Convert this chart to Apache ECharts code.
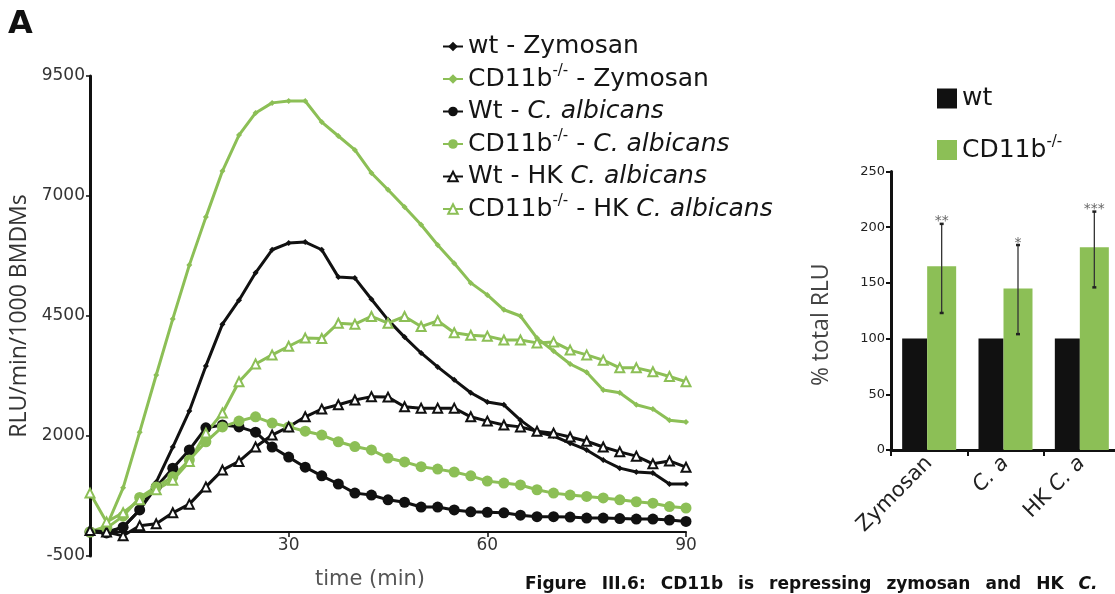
<!DOCTYPE html>
<html><head><meta charset="utf-8">
<script src="https://cdn.jsdelivr.net/npm/echarts@6/dist/echarts.min.js"></script>
<style>html,body{margin:0;padding:0;background:#fff}#c{width:1115px;height:594px}</style>
</head><body><div id="c"></div>
<script>
// ---- data: kinetics (RLU/min/1000 BMDMs) ----
const times = [0,2.5,5,7.5,10,12.5,15,17.5,20,22.5,25,27.5,30,32.5,35,37.5,40,42.5,45,47.5,50,52.5,55,57.5,60,62.5,65,67.5,70,72.5,75,77.5,80,82.5,85,87.5,90];
const wtZymosan = [40,0,100,460,1040,1770,2520,3460,4330,4830,5400,5880,6020,6040,5880,5310,5290,4850,4420,4060,3730,3440,3170,2900,2710,2650,2330,2080,2000,1850,1710,1500,1330,1250,1230,1000,1000];
const koZymosan = [0,120,920,2080,3270,4440,5560,6560,7520,8270,8730,8940,8980,8980,8540,8250,7960,7480,7130,6770,6400,5980,5600,5190,4940,4630,4500,4040,3770,3500,3330,2960,2900,2650,2560,2330,2290];
const wtCa = [0,-20,100,460,940,1330,1710,2170,2230,2190,2080,1770,1560,1350,1170,1000,810,770,670,620,520,520,460,420,410,400,350,320,320,310,290,290,280,270,270,250,220];
const koCa = [0,80,330,720,940,1150,1500,1880,2190,2310,2400,2270,2190,2100,2020,1880,1780,1710,1540,1460,1360,1310,1250,1170,1060,1020,980,880,810,770,740,710,670,630,600,530,500];
const wtHk = [30,0,-80,130,170,400,580,940,1290,1470,1770,2020,2190,2400,2560,2650,2750,2820,2810,2610,2580,2580,2580,2400,2310,2230,2190,2100,2060,1980,1890,1770,1670,1580,1420,1480,1350];
const koHk = [810,210,400,670,880,1080,1470,2060,2480,3130,3500,3690,3870,4040,4030,4350,4330,4490,4350,4490,4280,4400,4150,4100,4080,4000,4000,3940,3960,3790,3690,3580,3420,3420,3340,3240,3130];
const lineNames = ['wt - Zymosan','CD11b-/- - Zymosan','Wt - C. albicans','CD11b-/- - C. albicans','Wt - HK C. albicans','CD11b-/- - HK C. albicans'];

// ---- data: % total RLU ----
const barCats = ['Zymosan','C. a','HK C. a'];
const barNames = ['wt','CD11b-/-'];
const wtPct = [100,100,100];
const koPct = [165,145,182];
const koErrLow = [123,104,146];
const koErrHigh = [203,184,214];
const sigLabels = ['**','*','***'];

// ---- texts ----
const panelLabel = 'A';
const captionWords = ['Figure','III.6:','CD11b','is','repressing','zymosan','and','HK','C.'];

// ---- styles ----
const GREEN = '#8cbf56', BLACK = '#111111';
const FH = 'DejaVu Sans', FV = 'Open Sans';
const WT_BAR_W = 25, KO_BAR_W = 29;
const LEFT_GRID_H = 480, Y_MIN = -500, Y_MAX = 9500;
// place the time axis at y = 0 (as in the reference) by shifting it up from the grid bottom
const X_AXIS_OFFSET = -Math.round(LEFT_GRID_H * (0 - Y_MIN) / (Y_MAX - Y_MIN));

function fmtName(s){
  return s.split(/(CD11b-\/-|C\. albicans)/).filter(Boolean).map(p=>{
    if(p==='CD11b-/-') return '{n|CD11b}{sup|-/-}';
    if(p==='C. albicans') return '{i|C. albicans}';
    return '{n|'+p+'}';
  }).join('');
}
const legendRich = (fs, lh) => ({
  n:{fontFamily:FH,fontSize:fs,color:'#151515',lineHeight:lh},
  i:{fontFamily:FH,fontSize:fs,color:'#151515',lineHeight:lh,fontStyle:'italic'},
  sup:{fontFamily:FH,fontSize:Math.round(fs*0.6),color:'#151515',lineHeight:Math.round(lh/2),padding:[0,0,Math.round(lh/2),0]}
});

function lineSeries(idx, data, color, symbol, size, hollow){
  return {type:'line', name:lineNames[idx], xAxisIndex:0, yAxisIndex:0,
    data: times.map((t,i)=>[t,data[i]]),
    symbol:symbol, symbolSize:size, showAllSymbol:true, color:color,
    lineStyle:{color:color,width:3},
    itemStyle: hollow ? {color:'#fff',borderColor:color,borderWidth:2} : {color:color},
    emphasis:{disabled:true}, animation:false};
}

const caption = captionWords.map((w,i)=> (i===captionWords.length-1 ? '{bi|'+w+'}' : '{b|'+w+'}')).join('{s| }');

const chart = echarts.init(document.getElementById('c'), null, {renderer:'canvas'});
chart.setOption({
  animation:false,
  backgroundColor:'#fff',
  grid:[
    {left:90, top:76, width:596, height:LEFT_GRID_H, outerBoundsMode:'none', containLabel:false},
    {left:891, top:171.5, width:229, height:278.5, outerBoundsMode:'none', containLabel:false}
  ],
  legend:[
    {left:437, top:29, orient:'vertical', itemWidth:20, itemHeight:12, itemGap:5, selectedMode:false,
     data:lineNames, formatter:fmtName, textStyle:{rich:legendRich(25,30)}},
    {left:932, top:81, orient:'vertical', icon:'rect', itemWidth:20, itemHeight:20, itemGap:24, selectedMode:false,
     data:barNames, formatter:fmtName, textStyle:{rich:legendRich(25,30)}}
  ],
  xAxis:[
    {type:'value', gridIndex:0, min:0, max:90, interval:30, position:'bottom', offset:X_AXIS_OFFSET,
     axisLine:{onZero:false, lineStyle:{color:BLACK,width:2}},
     axisTick:{show:true,length:5,lineStyle:{color:BLACK,width:1.5}},
     axisLabel:{formatter:v=> v===0?'':String(v), fontFamily:FH, fontSize:17, color:'#333', margin:5},
     splitLine:{show:false},
     name:'time (min)', nameLocation:'middle', nameGap:37,
     nameTextStyle:{fontFamily:FH, fontSize:21, color:'#555', padding:[0,36,0,0]}},
    {type:'category', gridIndex:1, data:barCats,
     axisLine:{lineStyle:{color:BLACK,width:3}},
     axisTick:{show:true,length:6,lineStyle:{color:BLACK,width:2}},
     axisLabel:{rotate:45, margin:10, interval:0,
       formatter:v=> v==='Zymosan' ? '{n|Zymosan}' : (v==='C. a' ? '{i|C. a}' : '{n|HK }{i|C. a}'),
       rich:{n:{fontFamily:FH,fontSize:21,color:'#222'}, i:{fontFamily:FH,fontSize:21,color:'#222',fontStyle:'italic'}}}}
  ],
  yAxis:[
    {type:'value', gridIndex:0, min:Y_MIN, max:Y_MAX, interval:2500,
     axisLine:{show:true, lineStyle:{color:BLACK,width:3}},
     axisTick:{show:true,length:4,lineStyle:{color:BLACK,width:1.5}},
     axisLabel:{formatter:v=>String(v), fontFamily:FH, fontSize:17, color:'#333', margin:5},
     splitLine:{show:false},
     name:'RLU/min/1000 BMDMs', nameLocation:'middle', nameGap:54,
     nameTextStyle:{fontFamily:FV, fontSize:23, color:'#333'}},
    {type:'value', gridIndex:1, min:0, max:250, interval:50,
     axisLine:{show:true, lineStyle:{color:BLACK,width:3}},
     axisTick:{show:true,length:5,lineStyle:{color:BLACK,width:2}},
     axisLabel:{fontFamily:FH, fontSize:13, color:'#222', margin:6},
     splitLine:{show:false},
     name:'% total RLU', nameLocation:'middle', nameGap:58,
     nameTextStyle:{fontFamily:FV, fontSize:23, color:'#444', padding:[0,28,0,0]}}
  ],
  series:[
    lineSeries(0, wtZymosan, BLACK, 'diamond', 6, false),
    lineSeries(1, koZymosan, GREEN, 'diamond', 6, false),
    lineSeries(2, wtCa, BLACK, 'circle', 11, false),
    lineSeries(3, koCa, GREEN, 'circle', 11, false),
    lineSeries(4, wtHk, BLACK, 'triangle', 9, true),
    lineSeries(5, koHk, GREEN, 'triangle', 9, true),
    {type:'bar', name:barNames[0], xAxisIndex:1, yAxisIndex:1, data:wtPct, barWidth:WT_BAR_W, barGap:'0%',
     itemStyle:{color:BLACK}, emphasis:{disabled:true}},
    {type:'bar', name:barNames[1], xAxisIndex:1, yAxisIndex:1, data:koPct, barWidth:KO_BAR_W, barGap:'0%',
     itemStyle:{color:GREEN}, emphasis:{disabled:true}},
    {type:'custom', xAxisIndex:1, yAxisIndex:1, z:10,
     data: barCats.map((c,i)=>[i, koErrLow[i], koErrHigh[i]]),
     renderItem:(p, api)=>{
       const lo = api.coord([api.value(0), api.value(1)]);
       const hi = api.coord([api.value(0), api.value(2)]);
       const x = lo[0] + WT_BAR_W/2;
       const st = {stroke:'#333', lineWidth:1.3};
       return {type:'group', children:[
         {type:'line', shape:{x1:x,y1:lo[1],x2:x,y2:hi[1]}, style:st},
         {type:'line', shape:{x1:x-2,y1:hi[1],x2:x+2,y2:hi[1]}, style:{stroke:'#222',lineWidth:2.5}},
         {type:'line', shape:{x1:x-2,y1:lo[1],x2:x+2,y2:lo[1]}, style:{stroke:'#222',lineWidth:2.5}},
         {type:'text', x:x, y:hi[1]-2, style:{text:sigLabels[p.dataIndex], fill:'#666',
           font:'14px "DejaVu Sans"', align:'center', verticalAlign:'middle'}}
       ]};
     }}
  ],
  graphic:[
    {type:'text', left:8, top:9, style:{text:panelLabel, font:'bold 32px "DejaVu Sans"', fill:'#111'}},
    {type:'text', left:525, top:576, style:{text:caption, rich:{
      b:{fontFamily:FH, fontWeight:'bold', fontSize:17, fill:'#111'},
      bi:{fontFamily:FH, fontWeight:'bold', fontStyle:'italic', fontSize:17, fill:'#111'},
      s:{fontFamily:FH, fontSize:17, width:15}}}}
  ]
});
</script></body></html>
